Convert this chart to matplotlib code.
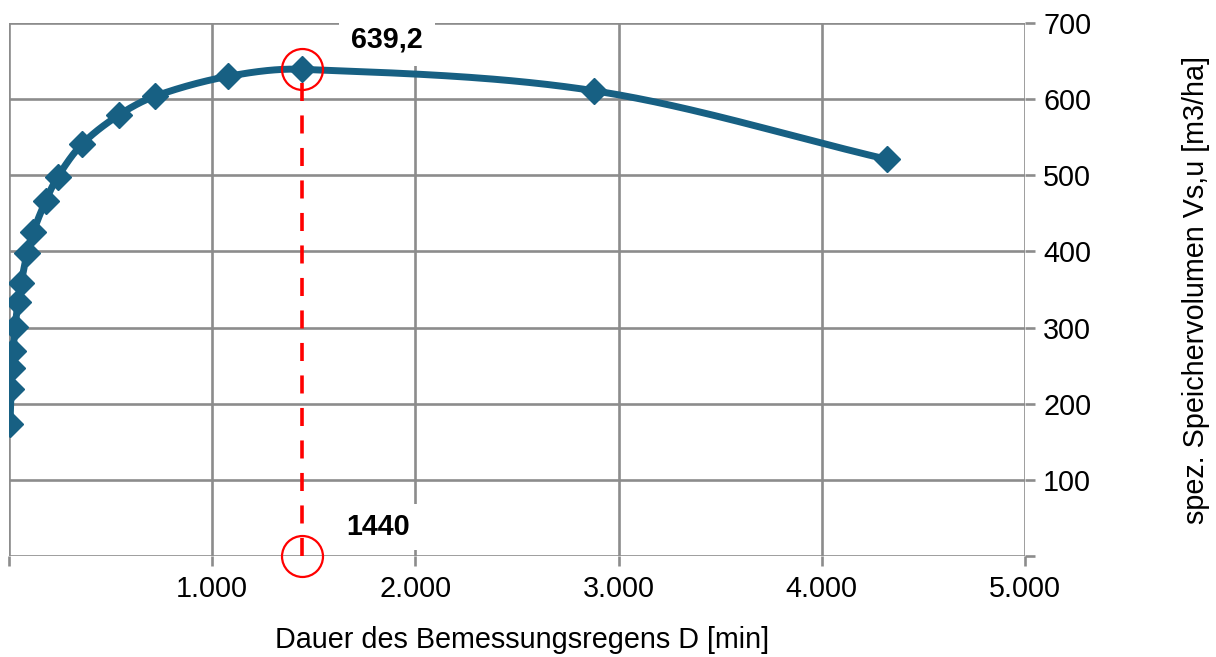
import numpy as np
import matplotlib
matplotlib.use('Agg')
import matplotlib.pyplot as plt

# ---- data ----
duration = [5, 10, 15, 20, 30, 45, 60, 90, 120, 180, 240, 360, 540, 720, 1080, 1440, 2880, 4320]
volume = [173, 219, 247, 269, 301, 334, 359, 398, 426, 466, 498, 541, 579, 604, 630, 639.2, 611, 521]
x_ticks = [0, 1000, 2000, 3000, 4000, 5000]
x_tick_labels = ['', '1.000', '2.000', '3.000', '4.000', '5.000']
y_ticks = [0, 100, 200, 300, 400, 500, 600, 700]
y_tick_labels = ['', '100', '200', '300', '400', '500', '600', '700']
peak_x = 1440
peak_y = 639.2
peak_y_label = '639,2'
peak_x_label = '1440'
x_label = 'Dauer des Bemessungsregens D [min]'
y_label = 'spez. Speichervolumen Vs,u [m3/ha]'

plt.rcParams['font.family'] = ['Liberation Sans', 'DejaVu Sans']
FS = 20.7

W, H = 1216, 657
fig = plt.figure(figsize=(W / 100, H / 100), dpi=100)
ax_l, ax_b, ax_w, ax_h = 9, 101, 1016, 533
ax = fig.add_axes([ax_l / W, ax_b / H, ax_w / W, ax_h / H])

xmin, xmax, ymin, ymax = 0, 5000, 0, 700
ax.set_xlim(xmin, xmax)
ax.set_ylim(ymin, ymax)

grid_c = '#8c8c8c'
line_c = '#176083'

# smooth curve (Excel-like Bezier smoothing in screen space, chord-scaled tangents)
sx = ax_w / (xmax - xmin)
sy = ax_h / (ymax - ymin)
P = np.column_stack([np.array(duration, float) * sx, np.array(volume, float) * sy])
Pext = np.vstack([P[0], P, P[-1]])
t = np.linspace(0, 1, 50)[:, None]
curve = []
for i in range(len(P) - 1):
    p0, p1, p2, p3 = Pext[i], Pext[i + 1], Pext[i + 2], Pext[i + 3]
    d01 = np.linalg.norm(p1 - p0)
    d12 = np.linalg.norm(p2 - p1)
    d23 = np.linalg.norm(p3 - p2)
    c1 = p1 + (p2 - p0) * (d12 / max(d01 + d12, 1e-9)) / 3.0
    c2 = p2 - (p3 - p1) * (d12 / max(d12 + d23, 1e-9)) / 3.0
    seg = ((1 - t) ** 3) * p1 + 3 * ((1 - t) ** 2) * t * c1 + 3 * (1 - t) * t ** 2 * c2 + t ** 3 * p2
    curve.append(seg)
curve = np.vstack(curve)
ax.plot(curve[:, 0] / sx, curve[:, 1] / sy, color=line_c, lw=5.0, solid_capstyle='round', zorder=3)
ax.plot(duration, volume, linestyle='none', marker='D', ms=13.5, color=line_c, zorder=4)

# grid
for xv in x_ticks:
    ax.axvline(xv, color=grid_c, lw=1.9, zorder=1)
for yv in y_ticks:
    ax.axhline(yv, color=grid_c, lw=1.9, zorder=1)

for s in ['top', 'left', 'right', 'bottom']:
    ax.spines[s].set_visible(False)

ax.set_xticks(x_ticks)
ax.set_xticklabels(x_tick_labels)
ax.set_yticks(y_ticks)
ax.set_yticklabels(y_tick_labels)
ax.yaxis.tick_right()
ax.tick_params(axis='x', direction='out', length=7, width=1.9, color=grid_c, labelsize=FS, pad=7)
ax.tick_params(axis='y', direction='out', length=7, width=1.9, color=grid_c, labelsize=FS, pad=6)

# annotations
ax.plot([peak_x, peak_x], [0, peak_y], color='#ff0000', lw=2.6, dashes=(5, 4), zorder=5)
ax.plot([peak_x, peak_x], [peak_y, 0], linestyle='none', marker='o', ms=29.5,
        mfc='none', mec='#ff0000', mew=1.6, zorder=6, clip_on=False)

ax.text(1860, 678, peak_y_label, fontsize=FS, fontweight='bold', ha='center', va='center',
        bbox=dict(boxstyle='square,pad=0.42', fc='white', ec='none'), zorder=7, clip_on=False)
ax.text(1814, 38, peak_x_label, fontsize=FS, fontweight='bold', ha='center', va='center',
        bbox=dict(boxstyle='square,pad=0.3', fc='white', ec='none'), zorder=7)

fig.text(522 / W, 1 - 640 / H, x_label, fontsize=FS, ha='center', va='center')
fig.text(1196 / W, 1 - 290 / H, y_label, fontsize=FS, ha='center', va='center', rotation=90)

fig.savefig('out.png', dpi=100, facecolor='white')
